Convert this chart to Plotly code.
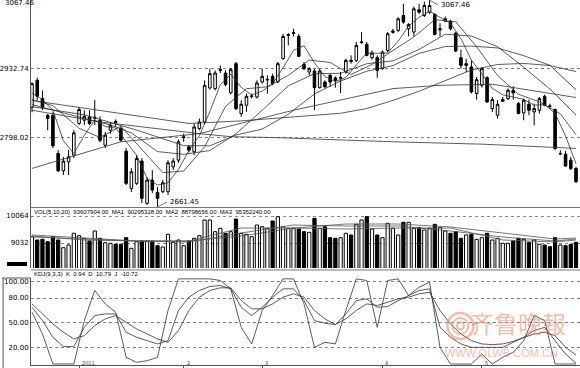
import plotly.graph_objects as go

# ---------------- price data (Shanghai Composite, Dec 2010 - May 2011) ----------------
opens = [2856.8, 2909.8, 2873.9, 2841, 2841, 2766, 2731.8, 2749.5, 2762.7, 2824.9,
         2831.3, 2837.8, 2835, 2831.4, 2782.4, 2811.7, 2829, 2815, 2770.6, 2697.4,
         2707.2, 2751, 2668, 2713.7, 2689.5, 2690.8, 2690.8, 2739.8, 2752.9, 2797,
         2779, 2769.2, 2815, 2828.1, 2894.8, 2893.5, 2929, 2924.2, 2885, 2942.5,
         2844.4, 2860.8, 2878, 2877.1, 2906.5, 2910.5, 2917.7, 2906.5, 2952.3, 2998,
         3002, 2996.1, 2941.2, 2926.2, 2928.1, 2895.4, 2906.5, 2919.6, 2914.4, 2914,
         2926.2, 2949, 2949, 2984, 2980.4, 2954.3, 2954.3, 2932.7, 2968.6, 3004,
         3007.9, 3037.3, 3011.1, 3004.6, 3048.4, 3037.3, 3043.8, 3039.2, 3009, 3026.2,
         3026.2, 3002.6, 2954.3, 2939.2, 2935.9, 2883.7, 2900, 2915, 2854.2, 2841.2,
         2868.6, 2873.9, 2890.2, 2864, 2845.7, 2862.7, 2847.7, 2851, 2878.4, 2859.5,
         2852.3, 2765, 2764.7, 2752.9, 2736.6]
highs = [2906, 2915, 2890, 2844, 2847, 2772.5, 2759, 2772.5, 2811.7, 2857.5,
         2851, 2851, 2870.6, 2839, 2808.4, 2828, 2833, 2819.6, 2776.5, 2737,
         2762.7, 2756.8, 2719.6, 2733, 2700, 2713.7, 2752.9, 2756.8, 2793.4, 2805,
         2782, 2825, 2834.7, 2909.8, 2932.7, 2929.4, 2939.2, 2929.4, 2934, 2945.8,
         2870.6, 2883.7, 2883.7, 2909.8, 2932.7, 2919.6, 2922.9, 2945.8, 3001.3, 3002.6,
         3011.1, 3001.3, 2945.8, 2936, 2932.7, 2932.7, 2909.8, 2922.9, 2917.7, 2926.2,
         2952.3, 2958.8, 2985, 3004.6, 2985, 2968.6, 2958.8, 2968.6, 3004.6, 3011.1,
         3034, 3060.2, 3022.2, 3054.9, 3060.2, 3064.7, 3067.46, 3041.9, 3022.2, 3035.3,
         3028.8, 3004.6, 2970, 2952.3, 2949, 2916.3, 2936, 2917.7, 2877.1, 2870.6,
         2877.1, 2893.5, 2898, 2867.3, 2873.9, 2871.9, 2864, 2877.1, 2881.7, 2864,
         2854.2, 2772.5, 2771.2, 2759.4, 2739.9]
lows = [2847, 2870.6, 2851, 2811.7, 2776.5, 2729, 2723.5, 2723.5, 2756.8, 2821.6,
        2821.6, 2821.6, 2821.6, 2788, 2776.5, 2805, 2818, 2788.8, 2703.9, 2690,
        2703.9, 2668.6, 2664.7, 2688.2, 2661.45, 2688, 2684, 2733.4, 2747.8, 2789,
        2768, 2762.7, 2811.7, 2823.5, 2891.5, 2890, 2924.2, 2898, 2882.4, 2851,
        2837.9, 2847.7, 2873.9, 2873.9, 2903.3, 2883.7, 2900, 2904.6, 2950.3, 2978.4,
        2996.1, 2955.6, 2929.4, 2919.6, 2851, 2893.5, 2895.4, 2896.7, 2895.4, 2885,
        2922.9, 2942.5, 2945.8, 2981.7, 2956.9, 2950.3, 2915, 2930.7, 2965.4, 3001.3,
        3004.6, 3020.9, 2996.1, 2996.1, 3040.5, 3034, 3040.5, 2998, 2996.1, 3024.2,
        3007.9, 2965.4, 2932.7, 2926.2, 2883.7, 2871.9, 2895.4, 2865.4, 2847.7, 2834.6,
        2867.3, 2870.6, 2871.9, 2843.1, 2831.4, 2841.2, 2821.6, 2844.4, 2858.8, 2854.2,
        2772.5, 2762.7, 2739.9, 2733.4, 2708.5]
closes = [2903.3, 2878.4, 2856.3, 2834.7, 2781, 2732, 2751, 2759.4, 2806.5, 2852.3,
          2839, 2824.9, 2837, 2792, 2802, 2821.6, 2827, 2792, 2707.2, 2730,
          2756.2, 2677.8, 2713.7, 2694, 2677.8, 2708.5, 2747.8, 2751, 2788.8, 2798.6,
          2772.5, 2818.2, 2828, 2900, 2922.9, 2924.2, 2930.7, 2901.3, 2930.7, 2854.2,
          2862.7, 2878.4, 2879, 2904.6, 2917.7, 2911.7, 2903.3, 2942.5, 2996.1, 2999.4,
          3003.3, 2956.9, 2932.7, 2932.7, 2895.4, 2928.1, 2896.7, 2906.5, 2909.8, 2915,
          2949, 2947, 2978.4, 2985, 2958.8, 2963.4, 2929.4, 2965.4, 3001.3, 3006.6,
          3030.7, 3024.2, 3019.6, 3050.4, 3043.8, 3056.9, 3056.9, 3000, 3011.1, 3030.7,
          3011.1, 2967.3, 2939.2, 2942.5, 2886.9, 2911.1, 2932.7, 2867.3, 2871.9, 2862.7,
          2871.9, 2890.2, 2885, 2844.4, 2870.6, 2851, 2854.2, 2873.9, 2860.8, 2858.8,
          2775.8, 2766, 2741.2, 2736.6, 2710.4]

# moving average lines (index, value)
ma5_idx = list(range(0, 105, 2))
ma5 = [2885, 2872, 2850.7, 2791, 2766, 2801.6, 2831.9, 2819, 2815.9, 2790,
       2762.5, 2717, 2703.9, 2708.4, 2734.8, 2771.7, 2801.2, 2848.3, 2901.2, 2922,
       2895.9, 2881, 2888.5, 2903.3, 2934.3, 2968.9, 2977.7, 2944.2, 2917.1, 2907.3,
       2915.4, 2939.8, 2963.6, 2963, 2963.7, 2986.7, 3016.5, 3033.7, 3045.5, 3033.7,
       3022, 2991.9, 2949.4, 2922.5, 2894, 2881.3, 2876.3, 2872.4, 2861, 2862.1,
       2844.7, 2800.5, 2746]
ma10_idx = [0, 4, 9, 13, 17, 21, 25, 29, 33, 37, 41, 45, 49, 53, 57, 61, 65, 69, 73,
            77, 81, 85, 89, 93, 97, 101, 104]
ma10 = [2872, 2860, 2815.5, 2797.5, 2819.4, 2774.3, 2728.4, 2731.4, 2779.1, 2858.5,
        2893.3, 2897.1, 2919.5, 2949.6, 2944.8, 2921.3, 2941, 2968.4, 2995, 3029,
        3024.8, 2975.7, 2919.3, 2882.4, 2867.6, 2844, 2802.9]
ma20_idx = [0, 5, 10, 15, 19, 24, 29, 34, 39, 44, 49, 54, 59, 64, 69, 74, 79, 84, 89,
            94, 99, 104]
ma20 = [2862, 2848, 2835, 2822, 2806.4, 2769.7, 2764.3, 2771.7, 2804.8, 2851, 2898.9,
        2922.9, 2923.6, 2942.4, 2948.1, 2970.5, 3000.4, 2996.9, 2975.9, 2935.5, 2892.7,
        2841.8]
ma30_idx = [0, 10, 20, 29, 34, 39, 44, 49, 54, 59, 64, 69, 74, 79, 84, 89, 94, 99, 104]
ma30 = [2858, 2842, 2812, 2781.4, 2781, 2802.3, 2813.9, 2843.1, 2883.1, 2908.5, 2927.7,
        2938.6, 2962.8, 2976.2, 2977.1, 2973.4, 2958.2, 2939.3, 2891.3]
ma60_idx = [0, 10, 20, 30, 40, 50, 59, 64, 69, 74, 79, 84, 89, 94, 99, 104]
ma60 = [2870, 2855, 2840, 2825, 2830, 2838, 2845, 2854.4, 2870.4, 2888.3, 2909.6,
        2930.1, 2940.9, 2943, 2938.9, 2927]
ma120_idx = [0, 17, 32, 50, 69, 78, 88, 97, 104]
ma120 = [2736.6, 2788.9, 2805, 2851, 2893.5, 2900, 2902, 2886.9, 2876]
ma250_idx = [0, 13, 32, 38, 46, 69, 86, 100, 104]
ma250 = [2851, 2828, 2805, 2799, 2797.4, 2789, 2784.3, 2777, 2776]

price_ticks = [3067.46, 2932.74, 2798.02]

# ---------------- volume (x10^4) ----------------
volume = [9273, 9147, 9173, 9082, 9273, 9147, 8852, 8956, 9403, 9311,
          9212, 9108, 9491, 9212, 9043, 9021, 8982, 8982, 9235, 8829,
          9082, 9108, 9108, 9108, 8929, 8879, 9365, 9059, 9147, 8929,
          9108, 9212, 9311, 9911, 9911, 9464, 9594, 9403, 9464, 9949,
          9403, 9365, 9273, 9720, 9655, 9594, 9873, 10037, 9655, 9594,
          9594, 9567, 9464, 9441, 9976, 9594, 9655, 9235, 9212, 9235,
          9403, 9338, 9747, 9911, 10037, 9567, 9338, 9235, 9785, 9594,
          9338, 9823, 9823, 9594, 9617, 9529, 9594, 9747, 9617, 9491,
          9403, 9464, 9212, 9338, 9365, 9173, 9235, 9403, 9147, 9212,
          9021, 9021, 9108, 9212, 9173, 9059, 9147, 8982, 8956, 8891,
          9235, 8956, 8929, 8982, 9059]
vma_idx = [0, 10, 20, 30, 40, 50, 60, 70, 80, 90, 100, 104]
vma5 = [9300, 9147, 9108, 9108, 9605, 9605, 9567, 9605, 9605, 9147, 9070, 9147]
vma10 = [9338, 9223, 9108, 9070, 9414, 9720, 9682, 9682, 9491, 9261, 9108, 9185]
vma20 = [9261, 9185, 9108, 9108, 9300, 9605, 9758, 9758, 9644, 9414, 9185, 9223]
vol_ticks = [10064, 9032]

# ---------------- KDJ ----------------
kdj_idx = list(range(0, 105, 2))
k_line = [68.8, 52.6, 32.4, 21.1, 21.1, 44.5, 58.7, 60.7, 60.7, 38.5, 32.4, 28.3, 24.3,
          28.3, 64.8, 81, 89.1, 93.9, 95.1, 91.1, 68.8, 58.7, 68.8, 81, 91.1, 91.1,
          76.9, 52.6, 49.4, 47.8, 60.7, 76.9, 78.9, 68.8, 69.6, 76.9, 83, 89.1, 91.1,
          44.5, 32.4, 24.3, 20.2, 20.2, 20.2, 20.2, 26.3, 32.4, 40.5, 44.5, 28.3, 12.1, 0.94]
d_line = [72.9, 60.7, 48.6, 38.5, 30.4, 34.4, 46.6, 54.7, 58.7, 50.6, 42.5, 36.4, 30.4,
          26.3, 40.5, 64.8, 81, 89.1, 92.3, 92.3, 76.9, 66.8, 66.8, 72.9, 81, 85,
          81, 64.8, 54.7, 47.8, 54.7, 64.8, 72.9, 70.9, 74.9, 78.9, 81, 85, 87,
          64.8, 48.6, 36.4, 28.3, 24.3, 23.5, 24.3, 27.5, 32.4, 36.4, 38.5, 34.4, 20.2, 10.79]
j_line = [62.8, 36.4, 0, 0, 0, 52.6, 89.1, 72.9, 62.8, 8.1, 2, 4, 8.1,
          64.8, 103.2, 103.2, 103.2, 103.2, 101.2, 91.1, 44.5, 24.3, 64.8, 83, 103.2, 103.2,
          72.9, 20.2, 26.3, 24.3, 64.8, 103.2, 101.2, 44.5, 101.2, 103.2, 83, 93.1, 99.2,
          20.2, 0, 0, 0, 12.1, 0, 8.1, 14.2, 28.3, 58.7, 52.6, 0, 0, 0]
kdj_ticks = [100, 80, 50, 20, 0]

month_pos = [9, 29, 44, 67, 86]
month_lab = ["2011", "2", "3", "4", "5"]

# ---------------- figure ----------------
W, H = 580, 368
L = 29
PW = W - L
idx = list(range(len(closes)))
X0, DX = 30.0, 5.25
xr = [(L - X0) / DX, (W - X0) / DX]


def fy(py):
    return 1 - py / H


def fx(px):
    return (px - L) / PW


fig = go.Figure()
fig.add_trace(go.Candlestick(
    x=idx, open=opens, high=highs, low=lows, close=closes,
    increasing=dict(line=dict(color="#000", width=1), fillcolor="#fff"),
    decreasing=dict(line=dict(color="#000", width=1), fillcolor="#000"),
    whiskerwidth=0, showlegend=False, hoverinfo="skip", xaxis="x", yaxis="y"))
for xs, ys in [(ma5_idx, ma5), (ma10_idx, ma10), (ma20_idx, ma20), (ma30_idx, ma30),
               (ma60_idx, ma60), (ma120_idx, ma120), (ma250_idx, ma250)]:
    fig.add_trace(go.Scatter(x=xs, y=ys, mode="lines", line=dict(color="#333", width=0.8),
                             showlegend=False, hoverinfo="skip", xaxis="x", yaxis="y"))

vcols = ["#fff" if c >= o else "#000" for o, c in zip(opens, closes)]
fig.add_trace(go.Bar(x=idx, y=volume, marker=dict(color=vcols, line=dict(color="#000", width=1)),
                     width=0.62, showlegend=False, hoverinfo="skip", xaxis="x2", yaxis="y2"))
for ys in [vma5, vma10, vma20]:
    fig.add_trace(go.Scatter(x=vma_idx, y=ys, mode="lines", line=dict(color="#555", width=0.8),
                             showlegend=False, hoverinfo="skip", xaxis="x2", yaxis="y2"))

for ys in [k_line, d_line, j_line]:
    fig.add_trace(go.Scatter(x=kdj_idx, y=ys, mode="lines", line=dict(color="#333", width=0.8),
                             showlegend=False, hoverinfo="skip", xaxis="x3", yaxis="y3"))

tick_font = dict(family="DejaVu Sans", size=7, color="#000")
grid = dict(showgrid=True, gridcolor="#888", griddash="dot", gridwidth=1)
xcommon = dict(range=xr, showgrid=False, zeroline=False, showticklabels=False, ticks="")

p_lo, p_hi = 3066.7 - 1.961 * 207.5, 3066.7 + 1.961 * 0.5
v_hi = 9032 + (243 - 208) * 38.22
v_lo = 9032 - (268 - 243) * 38.22
k_hi = (364 - 278) / 0.825
k_lo = -(365 - 364) / 0.825

fig.update_layout(
    width=W, height=H, margin=dict(l=L, r=0, t=0, b=0),
    paper_bgcolor="#fff", plot_bgcolor="#fff",
    xaxis=dict(domain=[0, 1], anchor="y", rangeslider=dict(visible=False), **xcommon),
    xaxis2=dict(domain=[0, 1], anchor="y2", **xcommon),
    xaxis3=dict(domain=[0, 1], anchor="y3", range=xr, showgrid=False, zeroline=False,
                showticklabels=False, ticks="outside", ticklen=2, tickcolor="#555",
                tickvals=month_pos, showline=True, linecolor="#555"),
    yaxis=dict(domain=[fy(207.5), 1], range=[p_lo, p_hi], tickvals=price_ticks[1:],
               ticktext=[f"{v:.2f}" for v in price_ticks[1:]], tickfont=tick_font,
               showline=True, linecolor="#555", zeroline=False, ticks="", **grid),
    yaxis2=dict(domain=[fy(268), fy(208)], range=[v_lo, v_hi], tickvals=vol_ticks,
                ticktext=[str(v) for v in vol_ticks], tickfont=tick_font,
                showline=True, linecolor="#555", zeroline=False, ticks="", **grid),
    yaxis3=dict(domain=[fy(365), fy(278)], range=[k_lo, k_hi], tickvals=kdj_ticks,
                ticktext=[f"{v:.2f}" for v in kdj_ticks], tickfont=tick_font,
                showline=True, linecolor="#555", zeroline=False, ticks="", **grid),
    bargap=0.3,
)

shapes = []
# panel separators
for py in (207.5, 270):
    shapes.append(dict(type="line", xref="paper", yref="paper", x0=0, x1=1, y0=fy(py), y1=fy(py),
                       line=dict(color="#777", width=1)))
# black unit block left of volume panel
shapes.append(dict(type="rect", xref="paper", yref="paper", x0=fx(5), x1=fx(25),
                   y0=fy(266), y1=fy(262), fillcolor="#000", line=dict(width=0)))
# KDJ label box on left
shapes.append(dict(type="line", xref="paper", yref="paper", x0=fx(0), x1=0,
                   y0=fy(278), y1=fy(278), line=dict(color="#555", width=1)))
shapes.append(dict(type="line", xref="paper", yref="paper", x0=fx(1), x1=fx(1),
                   y0=fy(278), y1=0, line=dict(color="#555", width=1)))
# leader lines for high/low marks
shapes.append(dict(type="line", xref="x", yref="y", x0=76, x1=77.6, y0=3067.46, y1=3058,
                   line=dict(color="#555", width=0.8)))
shapes.append(dict(type="line", xref="x", yref="y", x0=24, x1=25.8, y0=2661.45, y1=2670,
                   line=dict(color="#555", width=0.8)))
# watermark logo (concentric rings)
wm = "rgba(238,130,95,0.55)"
for r, wdt in [(13, 2.5), (8, 2), (3.5, 2)]:
    shapes.append(dict(type="circle", xref="paper", yref="paper",
                       x0=fx(460 - r), x1=fx(460 + r), y0=fy(326 + r), y1=fy(326 - r),
                       line=dict(color=wm, width=wdt)))
fig.update_layout(shapes=shapes)

small = dict(family="DejaVu Sans", size=7, color="#000")
tiny = dict(family="Liberation Sans", size=6, color="#000")
ann = [
    dict(xref="paper", yref="paper", x=fx(1), y=fy(3), text="3067.46", showarrow=False,
         xanchor="left", yanchor="middle", font=tick_font),
    dict(xref="x", yref="y", x=77.8, y=3058, text="3067.46", showarrow=False,
         xanchor="left", yanchor="middle", font=small),
    dict(xref="x", yref="y", x=26, y=2670, text="2661.45", showarrow=False,
         xanchor="left", yanchor="middle", font=small),
    dict(xref="paper", yref="paper", x=fx(30), y=fy(212), showarrow=False, xanchor="left",
         yanchor="middle", font=tiny,
         text="VOL(5,10,20)  93607904.00  MA1  90295328.00  MA2  88798656.00  MA3  95352240.00"),
    dict(xref="paper", yref="paper", x=fx(30), y=fy(273.5), showarrow=False, xanchor="left",
         yanchor="middle", font=tiny, text="KDJ(9,3,3)  K  0.94  D  10.79  J  -10.72"),
    # watermark
    dict(xref="paper", yref="paper", x=fx(518), y=fy(322), showarrow=False,
         xanchor="center", yanchor="middle",
         text="齐鲁晚報", font=dict(family="Noto Sans CJK SC", size=24, color=wm)),
    dict(xref="paper", yref="paper", x=fx(501), y=fy(353), showarrow=False,
         xanchor="center", yanchor="middle",
         text="WWW.QLWB.COM.CN", font=dict(family="Liberation Sans", size=11, color=wm)),
]
for p, lab in zip(month_pos, month_lab):
    ann.append(dict(xref="x3", yref="paper", x=p, y=fy(368), text=lab, showarrow=False,
                    xanchor="left", yanchor="bottom", xshift=1, font=dict(family="DejaVu Sans", size=5)))
fig.update_layout(annotations=ann)

fig.write_html("out.html")
